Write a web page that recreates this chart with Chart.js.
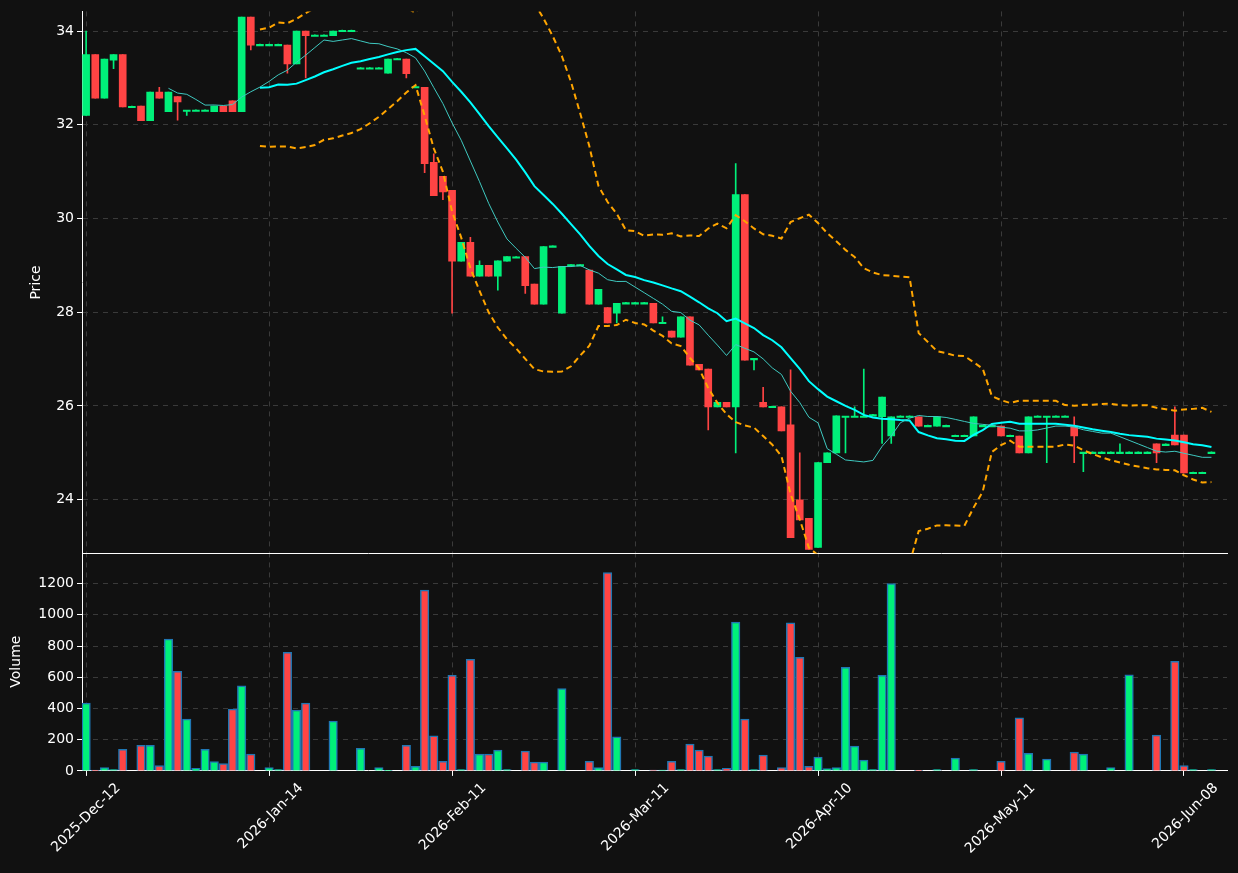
<!DOCTYPE html>
<html>
<head>
<meta charset="utf-8">
<script src="https://cdn.jsdelivr.net/npm/chart.js@4"></script>
<style>
  body { margin: 0; background: #111111; }
  #wrap { position: relative; width: 1238px; height: 873px; overflow: hidden; }
  canvas { position: absolute; left: 0; }
</style>
</head>
<body>
<div id="wrap">
  <canvas id="volChart" style="top:541px"></canvas>
  <canvas id="priceChart" style="top:0"></canvas>
</div>
<script>
// trading-day index -> tick label
const tickIndex = [0, 20, 40, 60, 80, 100, 120];
const tickLabels = ['2025-Dec-12', '2026-Jan-14', '2026-Feb-11', '2026-Mar-11', '2026-Apr-10', '2026-May-11', '2026-Jun-08'];
const priceTicks = [24, 26, 28, 30, 32, 34];
const volTicks = [0, 200, 400, 600, 800, 1000, 1200];

const opens = [32.2,33.5,32.57,33.38,33.5,32.38,32.4,32.09,32.7,32.28,32.6,32.3,32.3,32.3,32.28,32.4,32.51,32.28,34.3,33.7,
  33.7,33.7,33.7,33.3,34.0,33.9,33.9,33.9,34.0,34.0,33.2,33.2,33.2,33.1,33.4,33.4,32.8,32.8,31.2,30.9,
  30.6,29.09,29.49,28.77,29.0,28.77,29.09,29.17,29.19,28.6,28.17,29.4,27.98,29.0,29.0,28.9,28.17,28.1,27.98,28.19,
  28.19,28.19,28.19,27.77,27.6,27.47,27.9,26.89,26.79,25.98,26.08,25.98,30.51,27.0,26.08,25.98,25.98,25.6,24.0,23.6,
  22.98,24.79,25.0,25.77,25.77,25.77,25.8,25.77,25.36,25.77,25.77,25.77,25.57,25.57,25.57,25.36,25.36,25.36,25.57,25.57,
  25.57,25.36,25.36,25.0,25.77,25.77,25.77,25.77,25.57,25.0,25.0,25.0,25.0,25.0,25.0,25.0,25.0,25.19,25.17,25.38,
  25.38,24.57,24.57,25.0];
const highs = [34.0,33.5,33.4,33.5,33.5,32.38,32.4,32.7,32.8,32.7,32.6,32.3,32.3,32.3,32.4,32.4,32.51,34.3,34.3,33.7,
  33.7,33.7,33.7,34.0,34.0,33.9,33.9,34.0,34.0,34.0,33.2,33.2,33.2,33.4,33.4,33.4,32.8,32.8,31.38,30.9,
  30.6,29.49,29.6,29.1,29.0,29.1,29.19,29.17,29.19,28.6,29.4,29.4,28.98,29.0,29.0,28.9,28.49,28.1,28.19,28.19,
  28.19,28.19,28.19,27.9,27.6,27.9,27.9,26.89,26.79,26.08,26.08,31.17,30.51,27.0,26.4,25.98,25.98,26.77,25.0,23.6,
  24.79,25.0,25.79,25.77,25.98,26.79,25.8,26.19,25.77,25.77,25.77,25.77,25.57,25.77,25.57,25.36,25.36,25.77,25.57,25.57,
  25.57,25.36,25.36,25.77,25.77,25.77,25.77,25.77,25.77,25.0,25.0,25.0,25.0,25.19,25.0,25.0,25.0,25.19,25.17,25.98,
  25.38,24.57,24.57,25.0];
const lows = [32.2,32.57,32.57,33.2,32.38,32.38,32.09,32.09,32.57,32.28,32.1,32.2,32.3,32.3,32.28,32.28,32.28,32.28,33.6,33.7,
  33.7,33.7,33.1,33.3,33.0,33.9,33.9,33.9,34.0,34.0,33.2,33.2,33.2,33.1,33.4,33.0,32.8,30.98,30.49,30.4,
  27.98,29.09,28.77,28.77,28.77,28.47,29.09,29.17,28.4,28.17,28.17,29.4,27.98,29.0,29.0,28.17,28.17,27.77,27.77,28.19,
  28.19,28.19,27.77,27.77,27.47,27.47,26.87,26.77,25.49,25.98,25.98,25.0,26.98,26.77,25.98,25.98,25.47,23.19,23.57,22.94,
  22.98,24.79,25.0,25.0,25.77,25.77,25.8,25.2,25.2,25.77,25.77,25.57,25.57,25.57,25.57,25.36,25.36,25.36,25.57,25.57,
  25.36,25.36,25.0,25.0,25.77,24.79,25.77,25.77,24.79,24.6,25.0,25.0,25.0,25.0,25.0,25.0,25.0,24.79,25.17,25.17,
  24.57,24.57,24.57,25.0];
const closes = [33.5,32.57,33.4,33.5,32.38,32.38,32.09,32.7,32.57,32.7,32.49,32.3,32.3,32.3,32.4,32.28,32.28,34.3,33.7,33.7,
  33.7,33.7,33.3,34.0,33.9,33.9,33.9,34.0,34.0,34.0,33.2,33.2,33.2,33.4,33.4,33.09,32.8,31.17,30.49,30.57,
  29.09,29.49,28.77,29.0,28.77,29.1,29.19,29.17,28.57,28.17,29.4,29.4,28.98,29.0,29.0,28.17,28.49,27.77,28.19,28.19,
  28.19,28.19,27.77,27.77,27.47,27.9,26.87,26.77,25.98,26.08,25.98,30.51,26.98,27.0,25.98,25.98,25.47,23.19,23.57,22.94,
  24.79,25.0,25.79,25.77,25.77,25.77,25.8,26.19,25.77,25.77,25.77,25.57,25.57,25.77,25.57,25.36,25.36,25.77,25.57,25.57,
  25.36,25.36,25.0,25.77,25.77,25.77,25.77,25.77,25.36,25.0,25.0,25.0,25.0,25.0,25.0,25.0,25.0,25.0,25.17,25.17,
  24.57,24.57,24.57,25.0];
const volumes = [435,5,22,9,138,0,164,164,34,844,638,332,17,138,60,47,396,545,108,0,
  22,9,760,390,435,0,0,319,0,0,144,0,22,4,0,164,30,1159,224,62,
  612,9,715,108,108,134,9,0,127,56,56,0,528,0,0,62,22,1271,218,0,
  9,0,6,6,62,9,172,134,95,9,17,954,332,9,101,0,22,948,728,30,
  88,15,22,663,159,69,9,612,1200,0,0,4,0,9,0,82,0,9,0,0,
  62,0,340,112,0,75,0,0,121,108,0,0,22,0,616,0,0,230,0,702,
  34,9,0,9];

const UP = '#00f07a', DOWN = '#ff4444';
const isUp = opens.map((o, i) => closes[i] >= o);
const candleColor = isUp.map(u => u ? UP : DOWN);

function sma(period) {
  return closes.map((c, i) => {
    if (i < period - 1) return null;
    let s = 0; for (let k = i - period + 1; k <= i; k++) s += closes[k];
    return { x: i, y: s / period };
  }).filter(p => p);
}
function band(mult) {
  return closes.map((c, i) => {
    if (i < 19) return null;
    let s = 0; for (let k = i - 19; k <= i; k++) s += closes[k];
    const m = s / 20;
    let v = 0; for (let k = i - 19; k <= i; k++) v += (closes[k] - m) ** 2;
    return { x: i, y: m + mult * Math.sqrt(v / 20) };
  }).filter(p => p);
}

const wicks = highs.map((h, i) => ({ x: i, y: [lows[i], h + (h - lows[i] < 0.02 ? 0.02 : 0)] }));
const bodies = opens.map((o, i) => {
  const c = closes[i];
  return { x: i, y: Math.abs(c - o) < 0.03 ? [o - 0.015, o + 0.015] : [o, c] };
});

const gridCol = '#3a3a3a';
const tickFont = { family: 'DejaVu Sans', size: 14 };
const xScale = (showLabels) => ({
  type: 'linear', min: -0.45, max: 124.7, offset: false,
  afterBuildTicks: ax => { ax.ticks = tickIndex.map(v => ({ value: v })); },
  grid: { color: gridCol, tickColor: '#fff', drawTicks: showLabels, tickLength: 5, offset: false },
  border: { color: '#fff', width: 1, dash: [5, 5] },
  ticks: {
    display: showLabels, color: '#fff', font: tickFont, maxRotation: 45, minRotation: 45, autoSkip: false,
    labelOffset: 32, padding: 4,
    callback: v => tickLabels[tickIndex.indexOf(v)]
  }
});
const fitLeft = ax => { ax.width = 82; };

Chart.defaults.animation = false;

const pc = document.getElementById('priceChart');
pc.width = 1238; pc.height = 565; pc.style.width = '1238px'; pc.style.height = '565px';
new Chart(pc, {
  data: {
    datasets: [
      { type: 'bar', data: wicks, backgroundColor: candleColor, barThickness: 1, grouped: false, order: 3 },
      { type: 'bar', data: bodies, backgroundColor: candleColor, barThickness: 7, grouped: false, order: 2 },
      { type: 'line', data: sma(10), borderColor: '#3fc9c0', borderWidth: 1, pointRadius: 0, order: 1 },
      { type: 'line', data: sma(20), borderColor: '#00ffff', borderWidth: 2, pointRadius: 0, order: 1 },
      { type: 'line', data: band(2), borderColor: '#ffa500', borderWidth: 2, borderDash: [6, 4], pointRadius: 0, order: 1 },
      { type: 'line', data: band(-2), borderColor: '#ffa500', borderWidth: 2, borderDash: [6, 4], pointRadius: 0, order: 1 }
    ]
  },
  options: {
    responsive: false, maintainAspectRatio: false,
    layout: { padding: { top: 11, right: 11, bottom: 0, left: 0 } },
    plugins: { legend: { display: false }, tooltip: { enabled: false } },
    scales: {
      x: xScale(false),
      y: {
        min: 22.85, max: 34.42, afterFit: fitLeft,
        afterBuildTicks: ax => { ax.ticks = priceTicks.map(v => ({ value: v })); },
        grid: { color: gridCol, tickColor: '#fff', tickLength: 5 },
        border: { color: '#fff', width: 1, dash: [5, 5] },
        ticks: { color: '#fff', font: tickFont },
        title: { display: true, text: 'Price', color: '#fff', font: tickFont, padding: { top: 28, bottom: 0 } }
      }
    }
  }
});

const vc = document.getElementById('volChart');
vc.width = 1238; vc.height = 320; vc.style.width = '1238px'; vc.style.height = '320px';
new Chart(vc, {
  data: {
    datasets: [
      { type: 'bar', data: volumes.map((v, i) => ({ x: i, y: v })), backgroundColor: candleColor,
        borderColor: '#1f77b4', borderWidth: 1.5, barThickness: 8.5 }
    ]
  },
  options: {
    responsive: false, maintainAspectRatio: false,
    layout: { padding: { top: 0, right: 11, bottom: 0, left: 0 } },
    plugins: { legend: { display: false }, tooltip: { enabled: false } },
    scales: {
      x: xScale(true),
      y: {
        min: 0, max: 1400, afterFit: fitLeft,
        afterBuildTicks: ax => { ax.ticks = volTicks.map(v => ({ value: v })); },
        ticks: { color: '#fff', font: tickFont, callback: v => String(v) },
        grid: { color: gridCol, tickColor: '#fff', tickLength: 5 },
        border: { color: '#fff', width: 1, dash: [5, 5] },
        title: { display: true, text: 'Volume', color: '#fff', font: tickFont, padding: { top: 8, bottom: 0 } }
      }
    }
  }
});
</script>
</body>
</html>
